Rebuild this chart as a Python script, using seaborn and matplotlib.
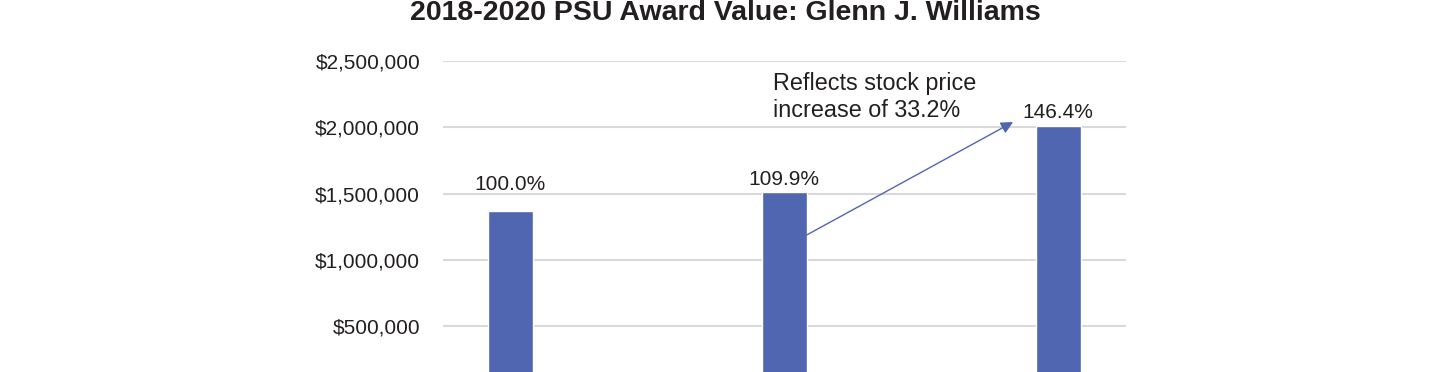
import matplotlib
matplotlib.use("Agg")
import matplotlib.pyplot as plt
import seaborn as sns
import pandas as pd
from matplotlib.ticker import FuncFormatter

# Data
years = ["2018", "2019", "2020"]
award_values = [1370000, 1512000, 2012000]
pct_labels = ["100.0%", "109.9%", "146.4%"]
title = "2018-2020 PSU Award Value: Glenn J. Williams"
note = "Reflects stock price\nincrease of 33.2%"

sns.set_theme(style="white")
plt.rcParams["font.family"] = ["Liberation Sans", "DejaVu Sans"]

bar_color = "#5066B0"
grid_color = "#D9D9D9"
text_color = "#231F20"
label_gap_pts = [15, 5, 5.5]  # baseline gap above each bar (style)

df = pd.DataFrame({"year": years, "value": award_values})

fig = plt.figure(figsize=(14.4, 3.72), dpi=100)
ax = fig.add_axes([443 / 1440, (372 - 392.7) / 372, (1126 - 443) / 1440, (392.7 - 61) / 372])

sns.barplot(data=df, x="year", y="value", color=bar_color, width=0.164,
            saturation=1, ax=ax, zorder=3)

ax.set_ylim(0, 2500000)
ax.set_xlim(-0.245, 2.248)
ax.set_yticks([500000, 1000000, 1500000, 2000000, 2500000])
ax.yaxis.set_major_formatter(FuncFormatter(lambda v, p: f"${v:,.0f}"))
ax.yaxis.grid(True, color=grid_color, linewidth=1.5, zorder=0)
ax.set_axisbelow(True)
for s in ax.spines.values():
    s.set_visible(False)
ax.tick_params(axis="y", length=0, pad=16.5, labelsize=15, labelcolor=text_color)
ax.tick_params(axis="x", length=0, labelbottom=False)
ax.set_xlabel("")
ax.set_ylabel("")

for i, (v, lab) in enumerate(zip(award_values, pct_labels)):
    ax.annotate(lab, xy=(i, v), xytext=(0, label_gap_pts[i]), textcoords="offset points",
                ha="center", va="baseline", fontsize=15, color=text_color)

ax.annotate("", xy=(1.836, 2040000), xytext=(1.082, 1188000),
            arrowprops=dict(arrowstyle="-|>", color=bar_color, lw=1.0,
                            mutation_scale=18, shrinkA=0, shrinkB=0))
ax.text(0.96, 2417000, note, ha="left", va="top", fontsize=16.8,
        color=text_color, linespacing=1.2)

fig.text(725 / 1440, 1 - 13 / 372, title, ha="center", va="center",
         fontsize=20.5, fontweight="bold", color=text_color)

fig.savefig("out.png", dpi=100)
